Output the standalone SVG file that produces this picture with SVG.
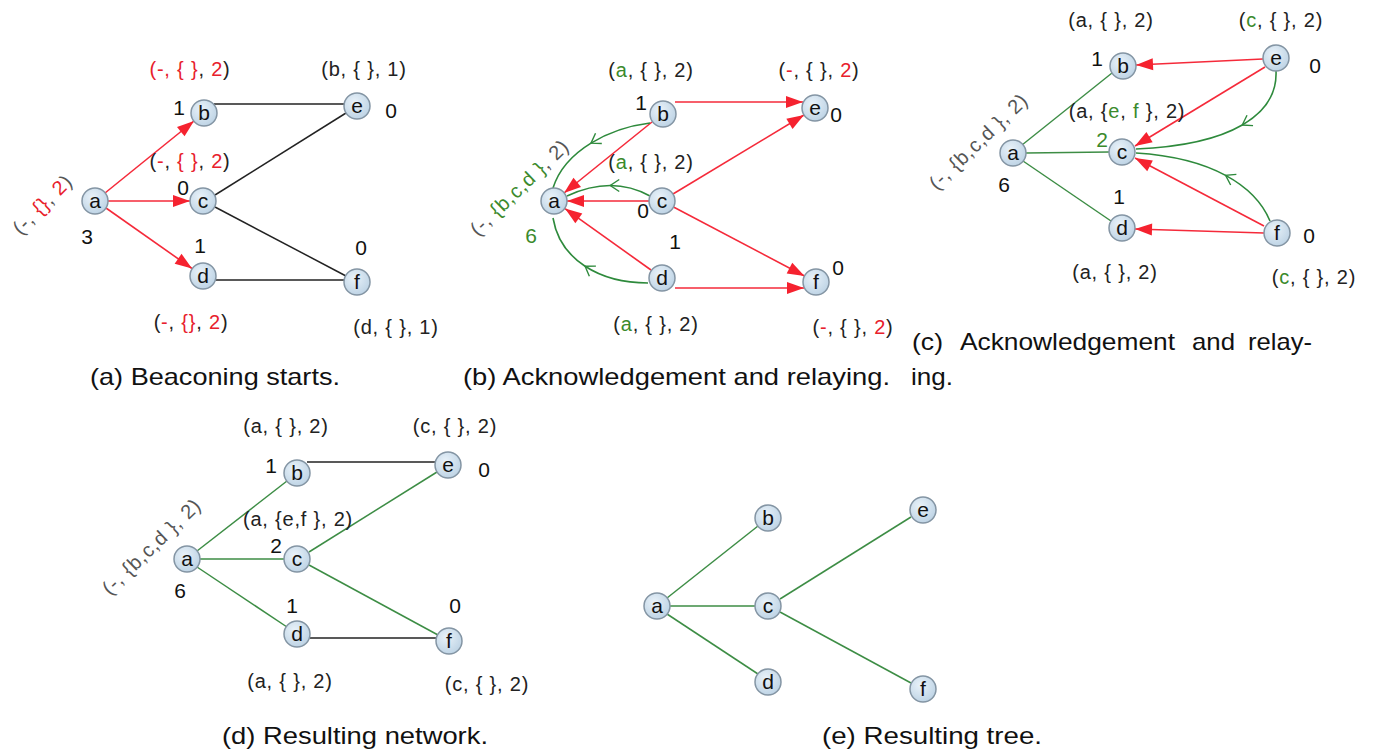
<svg xmlns="http://www.w3.org/2000/svg" width="1376" height="756" viewBox="0 0 1376 756">
<defs>
<radialGradient id="ng" cx="40%" cy="35%" r="70%">
<stop offset="0" stop-color="#e9f2f9"/>
<stop offset="1" stop-color="#bcd2e4"/>
</radialGradient>
<marker id="ah" markerUnits="userSpaceOnUse" markerWidth="20" markerHeight="14" refX="17" refY="6" orient="auto" overflow="visible">
<path d="M0,0 L17,6 L0,12 z" fill="#f5222f"/>
</marker>
<marker id="chev" markerUnits="userSpaceOnUse" markerWidth="14" markerHeight="14" refX="9" refY="0" orient="auto" overflow="visible">
<path d="M0,-6 L9,0 L0,6" fill="none" stroke="#2e8a3c" stroke-width="1.4"/>
</marker>
</defs>
<style>
.node circle{fill:url(#ng);stroke:#8495a4;stroke-width:1.5}
.node text{font-family:"Liberation Sans",Arial,sans-serif;font-size:21px;text-anchor:middle;fill:#111}
.lbl{font-family:"Liberation Sans",Arial,sans-serif;font-size:20px;letter-spacing:0.8px;text-anchor:middle;fill:#222}
.num{font-family:"Liberation Sans",Arial,sans-serif;font-size:21px;text-anchor:middle;fill:#111}
.rot{font-family:"Liberation Sans",Arial,sans-serif;font-size:20px;letter-spacing:0.8px;text-anchor:middle;fill:#555}
.r{fill:#e8202c}
.g{fill:#3b8a2c}
.cap{font-family:"Liberation Sans",Arial,sans-serif;font-size:24px;fill:#111}
.er{stroke:#f52a3a;stroke-width:1.6;fill:none;marker-end:url(#ah)}
.eb{stroke:#222;stroke-width:1.5}
.eg{stroke:#3d8d45;stroke-width:1.5}
.cv{stroke:#2e8a3c;stroke-width:1.6;fill:none;marker-mid:url(#chev)}
</style>
<rect width="1376" height="756" fill="#fff"/>

<!-- ===== connectors ===== -->
<g id="connectors">
<!-- (a) -->
<line class="er" x1="105" y1="193" x2="194" y2="121"/>
<line class="er" x1="108" y1="201" x2="190" y2="201"/>
<line class="er" x1="106" y1="208" x2="192" y2="268.5"/>
<line class="eb" x1="214" y1="104" x2="345" y2="104"/>
<line class="eb" x1="215" y1="195" x2="346" y2="113"/>
<line class="eb" x1="215" y1="207" x2="346" y2="276"/>
<line class="eb" x1="216" y1="280" x2="344" y2="280"/>
<!-- (b) -->
<line class="er" x1="675" y1="102" x2="803" y2="102"/>
<line class="er" x1="652" y1="122" x2="564" y2="193"/>
<line class="er" x1="649" y1="201" x2="567" y2="201"/>
<line class="er" x1="651" y1="270" x2="565" y2="208.6"/>
<line class="er" x1="673" y1="194" x2="804" y2="115"/>
<line class="er" x1="673.5" y1="207" x2="804.5" y2="276"/>
<line class="er" x1="675" y1="288" x2="804" y2="288"/>
<path class="cv" d="M650,123 C630,125.5 608.75,132.25 591,143.1 C573.25,154 559,169 553,188"/>
<path class="cv" d="M650,196 Q631,185.5 610.25,185.5 Q589.5,185.5 567,196"/>
<path class="cv" d="M648,283 C624,283 602,277.25 585.1,266.25 C568.25,255.25 556.5,239 553,218"/>
<!-- (c) -->
<line class="er" x1="1263" y1="59" x2="1136" y2="65"/>
<line class="er" x1="1265" y1="67" x2="1135" y2="146"/>
<line class="er" x1="1264" y1="226" x2="1135" y2="158"/>
<line class="er" x1="1264" y1="233" x2="1135" y2="229"/>
<line class="eg" x1="1022" y1="145" x2="1112" y2="73"/>
<line class="eg" x1="1026" y1="153" x2="1109" y2="152"/>
<line class="eg" x1="1023" y1="161" x2="1111" y2="221"/>
<path class="cv" d="M1276,71 C1277,93 1265.5,111.5 1242.25,125 C1219,138.5 1184,147 1136,149"/>
<path class="cv" d="M1270,221 C1262.5,203 1247.5,187.25 1225.6,175.4 C1203.75,163.5 1175,155.5 1136,153"/>
<!-- (d) -->
<line class="eg" x1="197" y1="551" x2="287" y2="481"/>
<line class="eg" x1="200" y1="559" x2="284" y2="559"/>
<line class="eg" x1="197" y1="567" x2="287" y2="627"/>
<line class="eb" x1="307" y1="462" x2="436" y2="462"/>
<line class="eg" x1="309" y1="552" x2="437" y2="472"/>
<line class="eg" x1="309" y1="565" x2="438" y2="635"/>
<line class="eb" x1="310" y1="638" x2="436" y2="638"/>
<!-- (e) -->
<line class="eg" x1="667" y1="598" x2="758" y2="526"/>
<line class="eg" x1="670" y1="606" x2="755" y2="606"/>
<line class="eg" x1="667" y1="614" x2="758" y2="674"/>
<line class="eg" x1="780" y1="599" x2="911" y2="517"/>
<line class="eg" x1="780" y1="612" x2="911" y2="683"/>
</g>

<!-- ===== nodes (a) ===== -->
<g id="pa-a" class="node"><circle cx="95" cy="201" r="13"/><text x="95" y="208">a</text></g>
<g id="pa-b" class="node"><circle cx="204" cy="113" r="13"/><text x="204" y="120">b</text></g>
<g id="pa-c" class="node"><circle cx="203" cy="201" r="13"/><text x="203" y="208">c</text></g>
<g id="pa-d" class="node"><circle cx="203" cy="276" r="13"/><text x="203" y="283">d</text></g>
<g id="pa-e" class="node"><circle cx="357" cy="106" r="13"/><text x="357" y="113">e</text></g>
<g id="pa-f" class="node"><circle cx="357" cy="282" r="13"/><text x="357" y="289">f</text></g>
<!-- ===== nodes (b) ===== -->
<g id="pb-a" class="node"><circle cx="554" cy="201" r="13"/><text x="554" y="208">a</text></g>
<g id="pb-b" class="node"><circle cx="663" cy="114" r="13"/><text x="663" y="121">b</text></g>
<g id="pb-c" class="node"><circle cx="662" cy="201" r="13"/><text x="662" y="208">c</text></g>
<g id="pb-d" class="node"><circle cx="662" cy="278" r="13"/><text x="662" y="285">d</text></g>
<g id="pb-e" class="node"><circle cx="815" cy="108" r="13"/><text x="815" y="115">e</text></g>
<g id="pb-f" class="node"><circle cx="816" cy="282" r="13"/><text x="816" y="289">f</text></g>
<!-- ===== nodes (c) ===== -->
<g id="pc-a" class="node"><circle cx="1013" cy="153" r="13"/><text x="1013" y="160">a</text></g>
<g id="pc-b" class="node"><circle cx="1123" cy="66" r="13"/><text x="1123" y="73">b</text></g>
<g id="pc-c" class="node"><circle cx="1122" cy="152" r="13"/><text x="1122" y="159">c</text></g>
<g id="pc-d" class="node"><circle cx="1122" cy="228" r="13"/><text x="1122" y="235">d</text></g>
<g id="pc-e" class="node"><circle cx="1276" cy="58" r="13"/><text x="1276" y="65">e</text></g>
<g id="pc-f" class="node"><circle cx="1277" cy="233" r="13"/><text x="1277" y="240">f</text></g>
<!-- ===== nodes (d) ===== -->
<g id="pd-a" class="node"><circle cx="187" cy="559" r="13"/><text x="187" y="566">a</text></g>
<g id="pd-b" class="node"><circle cx="297" cy="473" r="13"/><text x="297" y="480">b</text></g>
<g id="pd-c" class="node"><circle cx="297" cy="559" r="13"/><text x="297" y="566">c</text></g>
<g id="pd-d" class="node"><circle cx="297" cy="634" r="13"/><text x="297" y="641">d</text></g>
<g id="pd-e" class="node"><circle cx="448" cy="465" r="13"/><text x="448" y="472">e</text></g>
<g id="pd-f" class="node"><circle cx="449" cy="641" r="13"/><text x="449" y="648">f</text></g>
<!-- ===== nodes (e) ===== -->
<g id="pe-a" class="node"><circle cx="657" cy="606" r="13"/><text x="657" y="613">a</text></g>
<g id="pe-b" class="node"><circle cx="768" cy="518" r="13"/><text x="768" y="525">b</text></g>
<g id="pe-c" class="node"><circle cx="768" cy="606" r="13"/><text x="768" y="613">c</text></g>
<g id="pe-d" class="node"><circle cx="768" cy="682" r="13"/><text x="768" y="689">d</text></g>
<g id="pe-e" class="node"><circle cx="923" cy="510" r="13"/><text x="923" y="517">e</text></g>
<g id="pe-f" class="node"><circle cx="923" cy="689" r="13"/><text x="923" y="696">f</text></g>

<!-- ===== labels (a) ===== -->
<g id="labels-a">
<text class="lbl" x="190" y="76"><tspan class="r">(-,</tspan> <tspan class="r">{ }</tspan>, <tspan class="r">2</tspan>)</text>
<text class="lbl" x="364" y="76">(b, { }, 1)</text>
<text class="num" x="179" y="115">1</text>
<text class="num" x="391" y="118">0</text>
<text class="lbl" x="190" y="168">(<tspan class="r">-</tspan>, <tspan class="r">{ }</tspan>, <tspan class="r">2</tspan>)</text>
<text class="num" x="183" y="195">0</text>
<text class="num" x="87" y="244">3</text>
<text class="num" x="200" y="253">1</text>
<text class="num" x="361" y="255">0</text>
<text class="lbl" x="191" y="329">(<tspan class="r">-</tspan>, <tspan class="r">{}</tspan>, <tspan class="r">2</tspan>)</text>
<text class="lbl" x="396" y="334">(d, { }, 1)</text>
<text class="rot" transform="translate(43,205) rotate(-45)" y="6">(-, <tspan class="r">{}</tspan>, <tspan class="r">2</tspan>)</text>
</g>
<!-- ===== labels (b) ===== -->
<g id="labels-b">
<text class="lbl" x="651" y="77">(<tspan class="g">a</tspan>, { }, 2)</text>
<text class="num" x="641" y="110">1</text>
<text class="lbl" x="819" y="77">(<tspan class="r">-</tspan>, { }, <tspan class="r">2</tspan>)</text>
<text class="num" x="836" y="122">0</text>
<text class="lbl" x="651" y="169">(<tspan class="g">a</tspan>, { }, 2)</text>
<text class="num" x="643" y="218">0</text>
<text class="num g" x="531" y="243">6</text>
<text class="num" x="675" y="249">1</text>
<text class="num" x="838" y="275">0</text>
<text class="lbl" x="656" y="331">(<tspan class="g">a</tspan>, { }, 2)</text>
<text class="lbl" x="853" y="334">(<tspan class="r">-</tspan>, { }, <tspan class="r">2</tspan>)</text>
<text class="rot" transform="translate(520,188) rotate(-44)" y="6">(-, <tspan class="g">{b,c,d }</tspan>, 2)</text>
</g>
<!-- ===== labels (c) ===== -->
<g id="labels-c">
<text class="lbl" x="1111" y="27">(a, { }, 2)</text>
<text class="lbl" x="1281" y="27">(<tspan class="g">c</tspan>, { }, 2)</text>
<text class="num" x="1097" y="66">1</text>
<text class="num" x="1315" y="73">0</text>
<text class="lbl" x="1127" y="118">(a, {<tspan class="g">e</tspan>, <tspan class="g">f</tspan> }, 2)</text>
<text class="num g" x="1102" y="147">2</text>
<text class="num" x="1004" y="192">6</text>
<text class="num" x="1119" y="204">1</text>
<text class="num" x="1309" y="243">0</text>
<text class="lbl" x="1115" y="279">(a, { }, 2)</text>
<text class="lbl" x="1314" y="284">(<tspan class="g">c</tspan>, { }, 2)</text>
<text class="rot" transform="translate(979,142) rotate(-44)" y="6">(-, {b,c,d }, 2)</text>
</g>
<!-- ===== labels (d) ===== -->
<g id="labels-d">
<text class="lbl" x="286" y="433">(a, { }, 2)</text>
<text class="lbl" x="455" y="433">(c, { }, 2)</text>
<text class="num" x="271" y="473">1</text>
<text class="num" x="484" y="477">0</text>
<text class="lbl" x="298" y="526">(a, {e,f }, 2)</text>
<text class="num" x="276" y="553">2</text>
<text class="num" x="180" y="598">6</text>
<text class="num" x="292" y="613">1</text>
<text class="num" x="455" y="613">0</text>
<text class="lbl" x="290" y="688">(a, { }, 2)</text>
<text class="lbl" x="487" y="691">(c, { }, 2)</text>
<text class="rot" transform="translate(152,547) rotate(-44)" y="6">(-, {b,c,d }, 2)</text>
</g>

<!-- ===== captions ===== -->
<g id="captions">
<text class="cap" x="90" y="385" textLength="250" lengthAdjust="spacingAndGlyphs">(a) Beaconing starts.</text>
<text class="cap" x="463" y="385" textLength="427" lengthAdjust="spacingAndGlyphs">(b) Acknowledgement and relaying.</text>
<text class="cap" x="911" y="385" textLength="42" lengthAdjust="spacingAndGlyphs">ing.</text>
<text class="cap" y="350"><tspan x="912" textLength="31" lengthAdjust="spacingAndGlyphs">(c)</tspan><tspan x="960" textLength="215" lengthAdjust="spacingAndGlyphs">Acknowledgement</tspan><tspan x="1192" textLength="43" lengthAdjust="spacingAndGlyphs">and</tspan><tspan x="1248" textLength="64" lengthAdjust="spacingAndGlyphs">relay-</tspan></text>
<text class="cap" x="222" y="744" textLength="266" lengthAdjust="spacingAndGlyphs">(d) Resulting network.</text>
<text class="cap" x="822" y="744" textLength="220" lengthAdjust="spacingAndGlyphs">(e) Resulting tree.</text>
</g>
</svg>
